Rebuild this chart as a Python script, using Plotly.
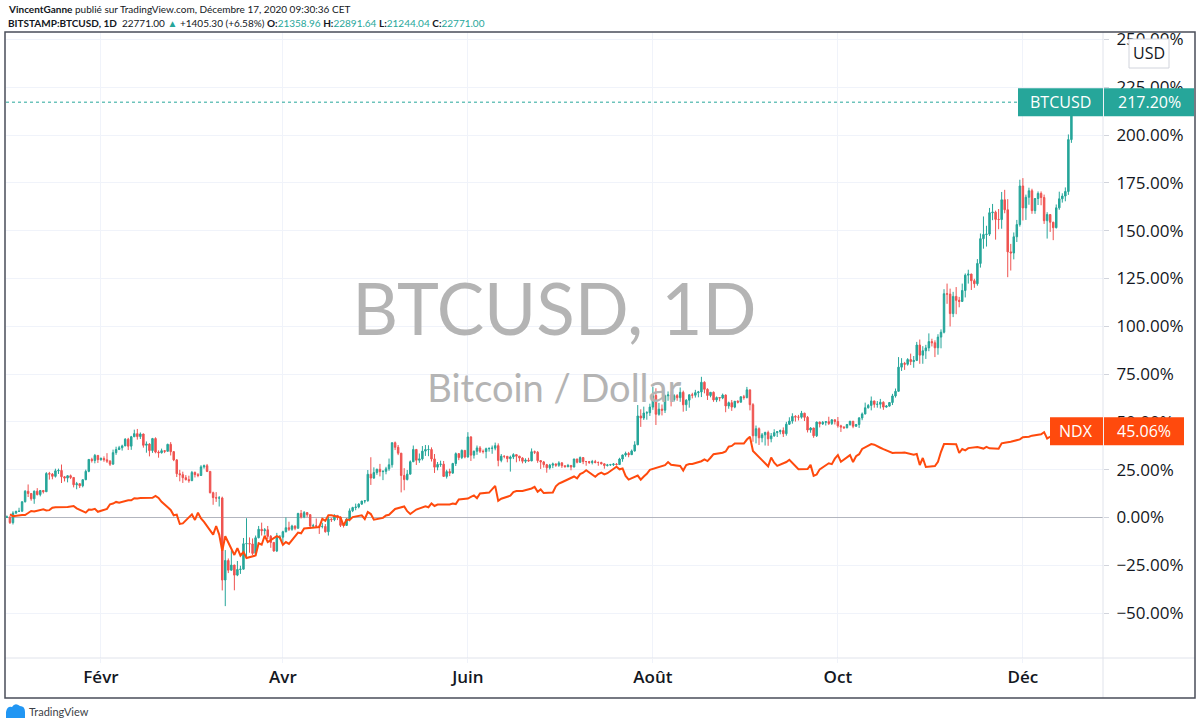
import pandas as pd
import plotly.graph_objects as go

# --- data (BITSTAMP:BTCUSD daily, NDX daily close), 2020 ---
BTC_BASE = 7178.8
NDX_BASE = 8733.07

btc_first_open = 7179

btc_close = [
    # Jan
    7200, 6985, 7345, 7410, 7411, 7769, 8163, 8080, 7879, 8166, 8037, 8192, 8144, 8828, 8807, 8723,
    8929, 8943, 8706, 8658, 8745, 8681, 8406, 8445, 8368, 8597, 8910, 9358, 9316, 9509, 9350,
    # Feb
    9393, 9344, 9293, 9180, 9613, 9729, 9795, 9865, 10116, 9856, 10208, 10326, 10214, 10312, 9889,
    9934, 9690, 10141, 9633, 9608, 9686, 9663, 9924, 9650, 9341, 8820, 8784, 8672, 8599,
    # Mar
    8562, 8869, 8787, 8755, 9078, 9122, 8909, 8108, 7923, 7909, 7911, 4830, 5563, 5200, 5392, 5014,
    5225, 5238, 6191, 6198, 6185, 5830, 6416, 6734, 6681, 6716, 6469, 6243, 5922, 6429, 6438,
    # Apr
    6642, 6794, 6734, 6856, 6772, 7329, 7198, 7361, 7284, 6858, 6865, 6859, 6842, 6843, 6642,
    7117, 7096, 7257, 7189, 6882, 6880, 7117, 7429, 7551, 7570, 7679, 7795, 7807, 8801, 8658,
    # May
    8864, 8989, 8898, 8912, 9004, 9158, 9986, 9813, 9593, 8756, 8601, 8805, 9270, 9733, 9328, 9378,
    9670, 9727, 9730, 9377, 9068, 9170, 9180, 8720, 8900, 8844, 9205, 9575, 9427, 9697, 9448,
    # Jun
    10202, 9519, 9666, 9790, 9665, 9653, 9759, 9775, 9781, 9875, 9321, 9480, 9475, 9387, 9450,
    9538, 9481, 9412, 9289, 9332, 9303, 9648, 9629, 9313, 9264, 9162, 9045, 9143, 9190, 9137,
    # Jul
    9228, 9123, 9087, 9132, 9073, 9375, 9252, 9428, 9278, 9278, 9240, 9276, 9243, 9243, 9192, 9132,
    9151, 9159, 9185, 9165, 9374, 9525, 9581, 9536, 9677, 9905, 10990, 10912, 11100, 11111, 11323,
    # Aug
    11759, 11053, 11246, 11205, 11747, 11779, 11601, 11754, 11675, 11878, 11410, 11584, 11784, 11768,
    11865, 11892, 12254, 11991, 11758, 11878, 11592, 11681, 11664, 11774, 11366, 11488, 11323, 11542,
    11507, 11711, 11680,
    # Sep
    11970, 11414, 10245, 10512, 10169, 10280, 10370, 10131, 10242, 10364, 10400, 10443, 10324, 10680,
    10796, 10974, 10948, 10944, 11094, 10938, 10462, 10538, 10246, 10760, 10692, 10750, 10775, 10709,
    10844, 10784,
    # Oct
    10619, 10575, 10549, 10669, 10793, 10604, 10668, 10915, 11065, 11296, 11384, 11555, 11425, 11430,
    11505, 11323, 11360, 11495, 11742, 11916, 12823, 12965, 12931, 13108, 13031, 13075, 13654, 13272,
    13437, 13546, 13781,
    # Nov
    13737, 13550, 13950, 14133, 15579, 15565, 14833, 15479, 15332, 15290, 15701, 16276, 16317, 16068,
    15955, 16716, 17645, 17804, 17817, 18621, 18642, 18370, 18364, 19107, 18732, 17150, 17108, 17717,
    18177, 19625,
    # Dec
    18802, 19201, 19445, 18699, 19154, 19345, 19191, 18321, 18553, 18264, 18058, 18803, 19142, 19246,
    19417, 21366, 22771,
]

btc_high = [
    # Jan
    7254, 7212, 7413, 7427, 7544, 7781, 8207, 8418, 8083, 8191, 8280, 8197, 8196, 8880, 8891, 8846,
    9009, 9012, 9166, 8737, 8765, 8790, 8683, 8514, 8460, 8602, 8975, 9370, 9421, 9564, 9520,
    # Feb
    9436, 9472, 9593, 9331, 9726, 9836, 9866, 9911, 10157, 10168, 10242, 10476, 10502, 10371, 10327,
    10033, 9967, 10166, 10188, 9698, 9764, 9701, 9948, 10008, 9673, 9370, 8967, 8898, 8769,
    # Mar
    8747, 8926, 8905, 8845, 9141, 9166, 9188, 8909, 8147, 8131, 7982, 7960, 5955, 5640, 5940, 5400,
    5544, 5366, 6409, 7150, 6430, 6390, 6500, 6860, 6985, 6780, 6860, 6520, 6250, 6600, 6520,
    # Apr
    6680, 7179, 7020, 6905, 6880, 7355, 7460, 7420, 7380, 7300, 6940, 7140, 6870, 6980, 6930,
    7200, 7150, 7300, 7260, 7220, 6950, 7150, 7520, 7580, 7700, 7710, 7800, 7830, 8960, 9440,
    # May
    9060, 9010, 9190, 8950, 9080, 9390, 9990, 10030, 9900, 9600, 9030, 8960, 9320, 9880, 9750, 9580,
    9860, 9900, 9890, 9810, 9560, 9260, 9310, 9300, 8970, 9010, 9230, 9620, 9600, 9730, 9700,
    # Jun
    10380, 10230, 9690, 9880, 9860, 9730, 9800, 9800, 9880, 9990, 9960, 9560, 9500, 9480, 9500,
    9590, 9560, 9490, 9440, 9400, 9420, 9770, 9690, 9670, 9330, 9300, 9190, 9190, 9240, 9200,
    # Jul
    9290, 9260, 9130, 9190, 9140, 9380, 9380, 9470, 9440, 9300, 9300, 9340, 9340, 9280, 9270, 9210,
    9190, 9190, 9220, 9220, 9420, 9540, 9650, 9640, 9730, 10040, 11400, 11240, 11340, 11170, 11450,
    # Aug
    12080, 12030, 11480, 11420, 11790, 11910, 11910, 11810, 11810, 12060, 11940, 11620, 11800, 11860,
    11970, 11930, 12460, 12290, 12030, 11890, 11910, 11720, 11700, 11830, 11800, 11530, 11590, 11550,
    11580, 11720, 11780,
    # Sep
    12080, 11970, 11470, 10630, 10560, 10350, 10400, 10440, 10350, 10490, 10420, 10480, 10560, 10770,
    10940, 11090, 11020, 11030, 11180, 11110, 10990, 10570, 10550, 10780, 10780, 10800, 10800, 10960,
    10870, 10860,
    # Oct
    10950, 10660, 10600, 10690, 10800, 10800, 10690, 10950, 11120, 11490, 11440, 11720, 11560, 11550,
    11630, 11540, 11400, 11500, 11820, 12020, 13200, 13160, 13020, 13160, 13330, 13240, 13770, 13860,
    13610, 13660, 14090,
    # Nov
    13890, 13830, 14060, 14240, 15750, 15960, 15770, 15650, 15830, 15460, 15960, 16340, 16480, 16330,
    16140, 16880, 17840, 18480, 18130, 18800, 18950, 18700, 18760, 19400, 19480, 19130, 17450, 17880,
    18350, 19860,
    # Dec
    19920, 19300, 19560, 19520, 19170, 19420, 19420, 19300, 18640, 18560, 18280, 18930, 19410, 19350,
    19570, 21560, 22892,
]

btc_low = [
    # Jan
    7174, 6935, 6915, 7309, 7400, 7409, 7743, 7947, 7808, 7692, 8006, 7971, 8079, 8140, 8600, 8612,
    8677, 8813, 8473, 8531, 8497, 8620, 8307, 8238, 8285, 8310, 8579, 8876, 9240, 9211, 9226,
    # Feb
    9308, 9271, 9225, 9113, 9164, 9530, 9710, 9690, 9859, 9711, 9718, 10204, 10101, 10126, 9800,
    9611, 9473, 9604, 9587, 9423, 9578, 9594, 9657, 9506, 9293, 8697, 8535, 8475, 8567,
    # Mar
    8482, 8541, 8681, 8689, 8742, 9011, 8882, 8083, 7655, 7762, 7591, 4440, 3850, 5090, 5180, 4444,
    4975, 5060, 5225, 5700, 5855, 5770, 5733, 6396, 6500, 6532, 6370, 6040, 5890, 5880, 6360,
    # Apr
    6160, 6620, 6670, 6680, 6700, 6770, 7140, 7150, 7200, 6760, 6780, 6800, 6560, 6770, 6610,
    6500, 7010, 7040, 7080, 6820, 6800, 6860, 7030, 7380, 7450, 7520, 7660, 7710, 7770, 8400,
    # May
    8630, 8780, 8720, 8580, 8800, 8930, 9050, 9710, 9520, 8120, 8200, 8570, 8800, 9260, 9150, 9230,
    9320, 9490, 9480, 9280, 8850, 8950, 9080, 8700, 8640, 8730, 8820, 9110, 9330, 9370, 9400,
    # Jun
    9430, 9300, 9390, 9530, 9600, 9580, 9400, 9650, 9570, 9700, 9100, 9250, 9400, 9250, 8900,
    9370, 9250, 9290, 9210, 9220, 9270, 9290, 9560, 9230, 9000, 9050, 8860, 8980, 9030, 9080,
    # Jul
    9080, 9040, 9050, 9060, 8950, 9060, 9210, 9230, 9180, 9120, 9190, 9170, 9210, 9120, 9170, 9010,
    9090, 9120, 9110, 9130, 9150, 9270, 9460, 9440, 9530, 9650, 9900, 10580, 10840, 10850, 10990,
    # Aug
    11220, 10650, 11000, 11010, 11100, 11560, 11350, 11530, 11560, 11520, 11150, 11180, 11300, 11650,
    11680, 11690, 11700, 11840, 11590, 11690, 11520, 11510, 11540, 11620, 11130, 11260, 11180, 11280,
    11460, 11500, 11600,
    # Sep
    11650, 11200, 10020, 9960, 9900, 10000, 9880, 9870, 10000, 10210, 10200, 10300, 10200, 10250,
    10650, 10700, 10780, 10820, 10890, 10800, 10370, 10360, 10170, 10200, 10560, 10650, 10630, 10650,
    10650, 10670,
    # Oct
    10550, 10390, 10500, 10520, 10620, 10530, 10580, 10540, 10830, 11050, 11270, 11200, 11300, 11300,
    11270, 11220, 11300, 11340, 11400, 11680, 11900, 12680, 12720, 12880, 12900, 12800, 13050, 12950,
    12950, 13130, 13420,
    # Nov
    13600, 13200, 13290, 13530, 14090, 15200, 14350, 14700, 14810, 15070, 15270, 15440, 15960, 15720,
    15800, 15880, 16560, 17270, 17350, 17750, 18340, 17610, 18000, 18020, 18600, 16200, 16450, 16870,
    17520, 18100,
    # Dec
    18330, 18350, 18920, 18580, 18580, 18910, 18900, 18200, 17650, 17900, 17590, 18030, 18730, 19000,
    19050, 19290, 21244,
]

ndx_holidays = ["2020-01-20", "2020-02-17", "2020-04-10", "2020-05-25", "2020-07-03", "2020-09-07", "2020-11-26"]

ndx_close = [
    # Jan
    8873, 8793, 8848, 8846, 8935, 9030, 9003, 9107, 9053, 9068, 9175, 9204, 9212, 9231, 9259, 9149,
    8953, 9094, 9084, 9125, 8991,
    # Feb
    9126, 9334, 9368, 9442, 9402, 9517, 9517, 9613, 9604, 9623, 9629, 9718, 9625, 9447, 9079, 8834,
    8862, 8437, 8462,
    # Mar
    8877, 8620, 8950, 8686, 8530, 7948, 8345, 7952, 7209, 7875, 7021, 7334, 6994, 7150, 6879, 6995,
    7553, 7488, 7898, 7612, 7879, 7813,
    # Apr
    7486, 7611, 7528, 8040, 8011, 8230, 8238, 8292, 8671, 8580, 8833, 8832, 8728, 8369, 8638, 8619,
    8749, 8834, 8664, 8981, 8889,
    # May
    8635, 8714, 8825, 8854, 8984, 9122, 9234, 9020, 8894, 8991, 9094, 9245, 9200, 9375, 9258, 9325,
    9323, 9368, 9346, 9556,
    # Jun
    9598, 9672, 9740, 9616, 9825, 9869, 10003, 10177, 9493, 9588, 9726, 9895, 9943, 9943, 9946,
    10056, 10131, 9909, 10017, 9849, 9874, 10157,
    # Jul
    10279, 10342, 10605, 10518, 10715, 10776, 10887, 10591, 10716, 10781, 10700, 10754, 11051, 10934,
    10970, 10632, 10461, 10645, 10459, 10603, 10726, 10906,
    # Aug
    11035, 11067, 11124, 11264, 11139, 11083, 10877, 11131, 11174, 11172, 11302, 11387, 11309, 11460,
    11625, 11690, 11746, 11965, 12001, 12110, 12110,
    # Sep
    12292, 12420, 11771, 11622, 11069, 11468, 11235, 11088, 11266, 11369, 11225, 11080, 10934, 10946,
    11136, 10634, 10692, 10931, 11210, 11168, 11418,
    # Oct
    11583, 11276, 11580, 11264, 11532, 11623, 11864, 12088, 12056, 11971, 11918, 11852, 11680, 11690,
    11680, 11690, 11700, 11600, 11630, 11130, 11450, 11040,
    # Nov
    11084, 11276, 11734, 12085, 12090, 12080, 11678, 11860, 11800, 11900, 11950, 11930, 11880, 11960,
    11890, 11870, 12120, 12150, 12190, 12300,
    # Dec
    12400, 12410, 12420, 12470, 12530, 12630, 12340, 12420, 12380, 12440, 12595, 12668,
]

month_ticks = ["2020-02-01", "2020-04-01", "2020-06-01", "2020-08-01", "2020-10-01", "2020-12-01"]
month_labels = ["Févr", "Avr", "Juin", "Août", "Oct", "Déc"]

TEAL = "#26A69A"
RED = "#EF5350"
NDX_COLOR = "#FF4A0D"
TEXT = "#131722"
GRID = "#F0F3FA"
FONT = "Open Sans, sans-serif"
WATERMARK = "#B4B4B4"

# --- series in percent of the first bar ---
btc_dates = pd.date_range("2020-01-01", "2020-12-17", freq="D")
ndx_dates = pd.bdate_range("2020-01-02", "2020-12-16").drop(pd.to_datetime(ndx_holidays))
assert len(btc_dates) == len(btc_close) == len(btc_high) == len(btc_low)
assert len(ndx_dates) == len(ndx_close)

btc_open = [btc_first_open] + btc_close[:-1]


def pct(values, base):
    return [(v / base - 1) * 100 for v in values]


btc_o, btc_h, btc_l, btc_c = (pct(s, BTC_BASE) for s in (btc_open, btc_high, btc_low, btc_close))
ndx_p = pct(ndx_close, NDX_BASE)
btc_last, ndx_last = btc_c[-1], ndx_p[-1]

# pixel -> paper helpers for the chrome around the plot
L, R, T, B = 6, 1103, 32, 658


def px(x):
    return (x - L) / (R - L)


def py(y):
    return (B - y) / (B - T)


PCT_PER_PX = (253.9 + 73.5) / (B - T)

fig = go.Figure()

# watermark sits under the candles
fig.add_scatter(
    x=["2020-06-29 12:00"], y=[104.5], mode="text", text=["BTCUSD, 1D"],
    textfont=dict(family="Lato, sans-serif", size=71, color=WATERMARK),
    hoverinfo="skip", showlegend=False,
)
fig.add_scatter(
    x=["2020-06-29 12:00"], y=[65.2], mode="text", text=["Bitcoin / Dollar"],
    textfont=dict(family="Lato, sans-serif", size=38, color=WATERMARK),
    hoverinfo="skip", showlegend=False,
)

fig.add_trace(go.Candlestick(
    x=btc_dates, open=btc_o, high=btc_h, low=btc_l, close=btc_c,
    increasing=dict(line=dict(color=TEAL, width=1), fillcolor=TEAL),
    decreasing=dict(line=dict(color=RED, width=1), fillcolor=RED),
    whiskerwidth=0, showlegend=False, name="BTCUSD",
))
fig.add_scatter(
    x=ndx_dates, y=ndx_p, mode="lines", line=dict(color=NDX_COLOR, width=2),
    showlegend=False, name="NDX",
)

shapes = [
    # last price dotted line
    dict(type="line", xref="paper", yref="y", x0=0, x1=px(1018), y0=btc_last, y1=btc_last,
         line=dict(color=TEAL, width=1, dash="dot"), layer="above"),
    # hide the part of tick labels above the frame
    dict(type="rect", xref="paper", yref="paper", x0=px(0), x1=px(1200), y0=py(31), y1=py(0),
         fillcolor="white", line_width=0, layer="above"),
    # axis separators
    dict(type="line", xref="paper", yref="paper", x0=px(5), x1=px(1195), y0=0, y1=0,
         line=dict(color="#E0E3EB", width=1), layer="above"),
    dict(type="line", xref="paper", yref="paper", x0=1, x1=1, y0=py(698), y1=1,
         line=dict(color="#E0E3EB", width=1), layer="above"),
    # USD box
    dict(type="rect", xref="paper", yref="paper", x0=px(1129), x1=px(1169), y0=py(68), y1=py(39),
         fillcolor="white", line=dict(color="#D1D4DC", width=1), layer="above"),
    # BTCUSD labels
    dict(type="rect", xref="paper", yref="y", x0=px(1018), x1=px(1103),
         y0=btc_last - 14 * PCT_PER_PX, y1=btc_last + 14 * PCT_PER_PX,
         fillcolor=TEAL, line_width=0, layer="above"),
    dict(type="rect", xref="paper", yref="y", x0=px(1104), x1=px(1194),
         y0=btc_last - 14 * PCT_PER_PX, y1=btc_last + 14 * PCT_PER_PX,
         fillcolor=TEAL, line_width=0, layer="above"),
    # NDX labels
    dict(type="rect", xref="paper", yref="y", x0=px(1050), x1=px(1103),
         y0=ndx_last - 14 * PCT_PER_PX, y1=ndx_last + 14 * PCT_PER_PX,
         fillcolor=NDX_COLOR, line_width=0, layer="above"),
    dict(type="rect", xref="paper", yref="y", x0=px(1104), x1=px(1184),
         y0=ndx_last - 14 * PCT_PER_PX, y1=ndx_last + 14 * PCT_PER_PX,
         fillcolor=NDX_COLOR, line_width=0, layer="above"),
    # outer frame
    dict(type="rect", xref="paper", yref="paper", x0=px(5), x1=px(1195), y0=py(698), y1=py(32),
         line=dict(color="#4A4E5A", width=1.5), layer="above"),
    # TradingView cloud logo
    dict(type="path", xref="paper", yref="paper",
         path=f"M {px(6)},{py(718)} L {px(6)},{py(712)} Q {px(7)},{py(706)} {px(12)},{py(707)} "
              f"Q {px(15)},{py(702)} {px(20)},{py(706)} Q {px(25)},{py(706)} {px(25)},{py(712)} "
              f"L {px(25)},{py(718)} Z",
         fillcolor="#2196F3", line_width=0, layer="above"),
]

header1 = "<b>VincentGanne</b> publié sur TradingView.com, Décembre 17, 2020 09:30:36 CET"
val = f"<span style='color:{TEAL}'>"
header2 = (
    "<b>BITSTAMP:BTCUSD, 1D</b>  22771.00 " + val + "▲</span> +1405.30 (+6.58%) "
    "<b>O:</b>" + val + "21358.96</span> <b>H:</b>" + val + "22891.64</span> "
    "<b>L:</b>" + val + "21244.04</span> <b>C:</b>" + val + "22771.00</span>"
)

label_font = dict(size=16, color="white", family=FONT)
annotations = [
    dict(text=header1, x=px(6), y=py(9), xanchor="left"),
    dict(text=header2, x=px(6), y=py(23), xanchor="left"),
    dict(text="USD", x=px(1149), y=py(53), font=dict(size=16, color=TEXT, family=FONT)),
    dict(text="BTCUSD", x=px(1060), yref="y", y=btc_last, font=label_font),
    dict(text=f"{btc_last:.2f}%", x=px(1149), yref="y", y=btc_last, font=label_font),
    dict(text="NDX", x=px(1076), yref="y", y=ndx_last, font=label_font),
    dict(text=f"{ndx_last:.2f}%", x=px(1144), yref="y", y=ndx_last, font=label_font),
    dict(text="TradingView", x=px(27), y=py(712), xanchor="left",
         font=dict(size=11, color="#3C3F47", family="Lato, sans-serif")),
]
for a in annotations:
    a.setdefault("xref", "paper")
    a.setdefault("yref", "paper")
    a.setdefault("xanchor", "center")
    a.setdefault("yanchor", "middle")
    a.setdefault("showarrow", False)
    a.setdefault("font", dict(size=10, color=TEXT, family="Lato, sans-serif"))

fig.update_layout(
    width=1200, height=727,
    margin=dict(l=L, r=1200 - R, t=T, b=727 - B),
    paper_bgcolor="white", plot_bgcolor="white",
    font=dict(family=FONT, color=TEXT),
    shapes=shapes, annotations=annotations,
    showlegend=False, hovermode=False,
)
fig.update_xaxes(
    type="date", range=["2019-12-31 16:48", "2020-12-27 10:00"],
    rangeslider_visible=False,
    tickvals=month_ticks, ticktext=month_labels,
    tickfont=dict(size=17, color=TEXT, family=FONT, weight=600),
    showgrid=True, gridcolor=GRID, gridwidth=1,
    ticks="outside", ticklen=4, tickcolor=GRID,
    showline=False, zeroline=False,
)
fig.update_yaxes(
    side="right", range=[-73.5, 253.9],
    tick0=0, dtick=25, tickformat=".2f", ticksuffix="%",
    tickfont=dict(size=17, color=TEXT, family=FONT),
    showgrid=True, gridcolor=GRID, gridwidth=1,
    zeroline=True, zerolinecolor="#B2B5BE", zerolinewidth=1,
    ticks="outside", ticklen=5, tickcolor="#D1D4DC", ticklabelstandoff=4,
    showline=False,
)

# the page puts an 8px margin round the body; drop it so the figure starts at 0,0
fig.write_html(
    "out.html",
    config={"displayModeBar": False},
    post_script="document.body.style.margin = '0';",
)
